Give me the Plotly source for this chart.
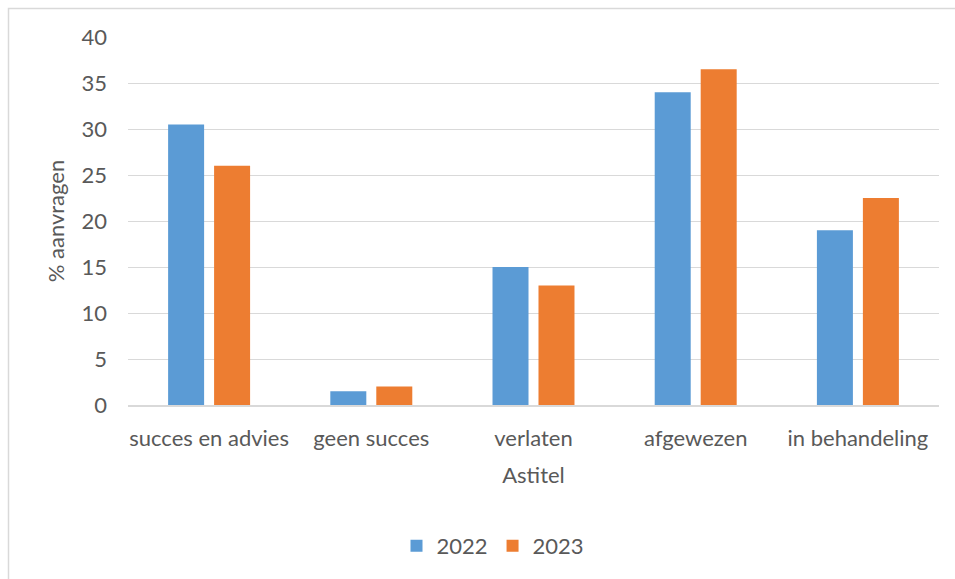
import plotly.graph_objects as go

# Categories (x axis) and percentages per year
categories = ["succes en advies", "geen succes", "verlaten", "afgewezen", "in behandeling"]
values_2022 = [30.5, 1.5, 15, 34, 19]
values_2023 = [26, 2, 13, 36.5, 22.5]
y_ticks = [0, 5, 10, 15, 20, 25, 30, 35, 40]

BLUE = "#5b9bd5"
ORANGE = "#ed7d31"
TEXT = "#595959"
GRID = "#d9d9d9"
FONT = "Lato, Calibri, Carlito, sans-serif"

fig = go.Figure()
fig.add_trace(go.Bar(x=categories, y=values_2022, name="2022", marker_color=BLUE,
                     marker_line_width=0))
fig.add_trace(go.Bar(x=categories, y=values_2023, name="2023", marker_color=ORANGE,
                     marker_line_width=0))

W, H = 955, 579
L, R, T, B = 128, 16, 37, 174
pw, ph = W - L - R, H - T - B


def px_to_paper_x(px):
    return (px - L) / pw


def px_to_paper_y(py):
    return (H - B - py) / ph


fig.update_layout(
    width=W, height=H,
    margin=dict(l=L, r=R, t=T, b=B, autoexpand=False),
    paper_bgcolor="white", plot_bgcolor="white",
    font=dict(family=FONT, size=22, color=TEXT),
    barmode="group", bargap=0.433, bargroupgap=0.217,
    showlegend=True,
    legend=dict(orientation="h", xref="paper", yref="paper",
                x=px_to_paper_x(493), y=px_to_paper_y(546),
                xanchor="center", yanchor="middle",
                font=dict(size=22, color=TEXT), itemwidth=30,
                traceorder="normal"),
    xaxis=dict(showgrid=False, showline=True, linecolor=GRID, linewidth=1.5,
               ticks="", ticklabelstandoff=13,
               tickfont=dict(size=22, color=TEXT),
               title=dict(text="Astitel", font=dict(size=22, color=TEXT), standoff=17)),
    yaxis=dict(range=[0, 40], tickvals=y_ticks, showgrid=True, gridcolor=GRID,
               gridwidth=1.3, zeroline=False, showline=False, ticks="",
               ticklabelstandoff=20, tickfont=dict(size=22, color=TEXT),
               title=dict(text="% aanvragen", font=dict(size=22, color=TEXT), standoff=10)),
    shapes=[dict(type="rect", xref="paper", yref="paper",
                 x0=px_to_paper_x(8.5), x1=px_to_paper_x(975),
                 y0=px_to_paper_y(600), y1=px_to_paper_y(8.5),
                 line=dict(color=GRID, width=1.5), fillcolor="rgba(0,0,0,0)",
                 layer="below")],
)

fig.write_html("out.html")
